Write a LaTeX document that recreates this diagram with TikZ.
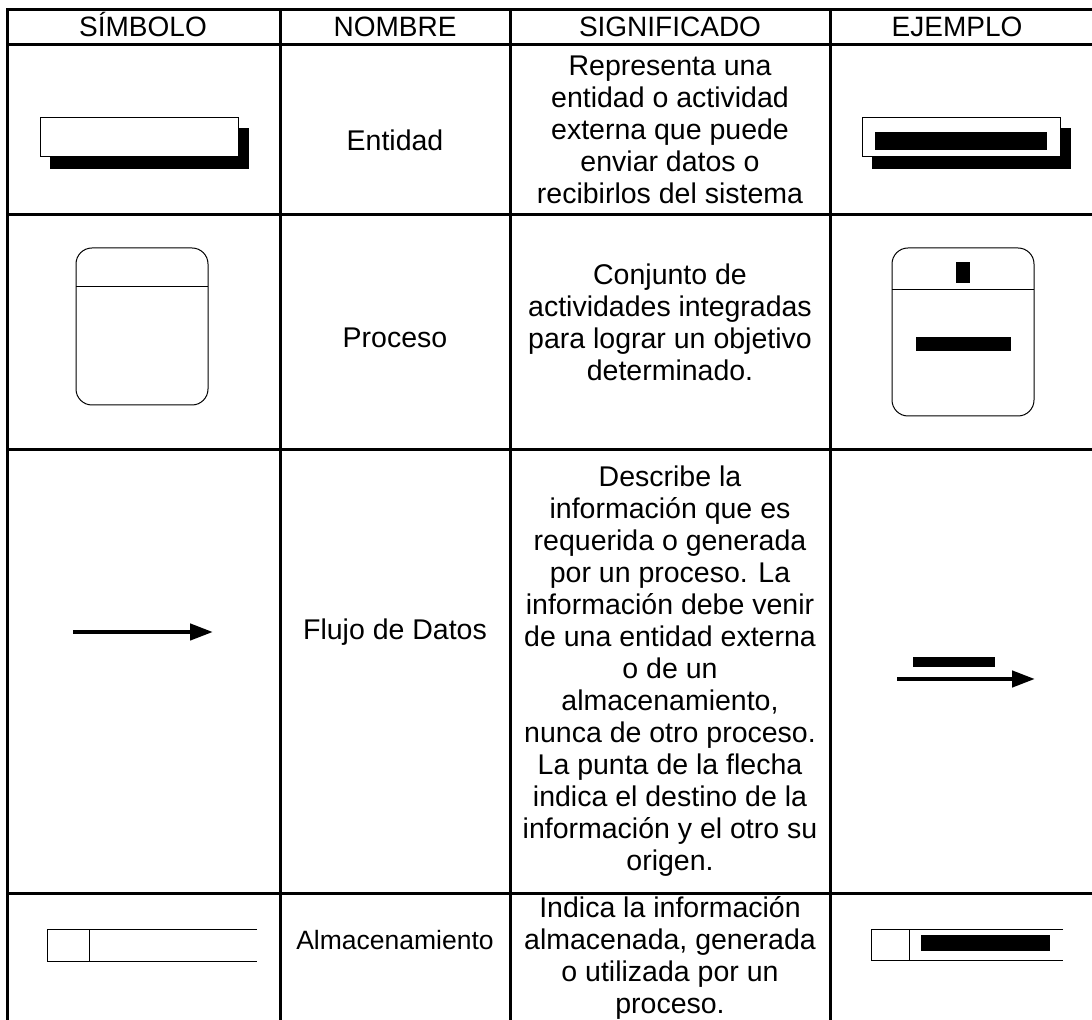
\documentclass[tikz,border=0pt]{standalone}
\usepackage{fontspec}
\setmainfont{Liberation Sans}
\usetikzlibrary{arrows.meta}

\begin{document}
\begin{tikzpicture}[x=0.5pt, y=-0.5pt,
    grid/.style={line width=1.5pt, line cap=rect},
    thinline/.style={line width=0.5pt},
    head/.style={anchor=base, font=\fontsize{14}{16}\selectfont},
    cell/.style={align=center, inner sep=0pt, font=\fontsize{14.25}{16}\selectfont},
    flow/.style={line width=2.2pt, -{Triangle[length=11.5pt, width=8pt]}}]
    \useasboundingbox (0,0) rectangle (1092,1020);

    % Table lines
    \foreach \y in {10,45,215,450,893}
        \draw[grid] (7,\y) -- (1092,\y);
    \foreach \x in {7,280,510,830}
        \draw[grid] (\x,10) -- (\x,1020);

    % Header
    \node[head] (hsim) at (143,37) {SÍMBOLO};
    \node[head] (hnom) at (395,37) {NOMBRE};
    \node[head] (hsig) at (670,37) {SIGNIFICADO};
    \node[head] (hej) at (957,37) {EJEMPLO};

    % Entidad
    \fill (50,128) rectangle (249,169);
    \filldraw[thinline, fill=white] (40,118) rectangle (238,157);
    \node[cell] (nomEnt) at (395,140) {Entidad};
    \node[cell] (sigEnt) at (670,130) {Representa una\\entidad o actividad\\externa que puede\\enviar datos o\\recibirlos del sistema};
    \fill (872,128) rectangle (1071,169);
    \filldraw[thinline, fill=white] (862,118) rectangle (1060,157);
    \fill (875,132) rectangle (1047,150);

    % Proceso
    \draw[thinline, rounded corners=8pt] (76,248) rectangle (208,405);
    \draw[thinline] (76,287) -- (208,287);
    \node[cell] (nomPro) at (395,338) {Proceso};
    \node[cell] (sigPro) at (670,322) {Conjunto de\\actividades integradas\\para lograr un objetivo\\determinado.};
    \draw[thinline, rounded corners=8pt] (892,248) rectangle (1034,416);
    \draw[thinline] (892,290) -- (1034,290);
    \fill (956,262) rectangle (970,283);
    \fill (916,337) rectangle (1011,351);

    % Flujo de datos
    \coordinate (fluA) at (73,632);
    \coordinate (fluB) at (213,632);
    \draw[flow] (fluA) -- (fluB);
    \node[cell] (nomFlu) at (395,632) {Flujo de Datos};
    \node[cell] (sigFlu) at (670,671) {Describe la\\información que es\\requerida o generada\\por un proceso. La\\información debe venir\\de una entidad externa\\o de un\\almacenamiento,\\nunca de otro proceso.\\La punta de la flecha\\indica el destino de la\\información y el otro su\\origen.};
    \fill (913,657) rectangle (995,667);
    \coordinate (ejA) at (897,679);
    \coordinate (ejB) at (1035,679);
    \draw[flow] (ejA) -- (ejB);

    % Almacenamiento
    \draw[thinline] (257,929) -- (47,929) -- (47,961) -- (257,961);
    \draw[thinline] (89,929) -- (89,961);
    \node[cell, font=\fontsize{13.25}{15}\selectfont] (nomAlm) at (395,940) {Almacenamiento};
    \node[cell, anchor=north] (sigAlm) at (670,896) {Indica la información\\almacenada, generada\\o utilizada por un\\proceso.};
    \draw[thinline] (1063,929) -- (871,929) -- (871,960) -- (1063,960);
    \draw[thinline] (909,929) -- (909,960);
    \fill (921,935) rectangle (1050,951);
\end{tikzpicture}
\end{document}
